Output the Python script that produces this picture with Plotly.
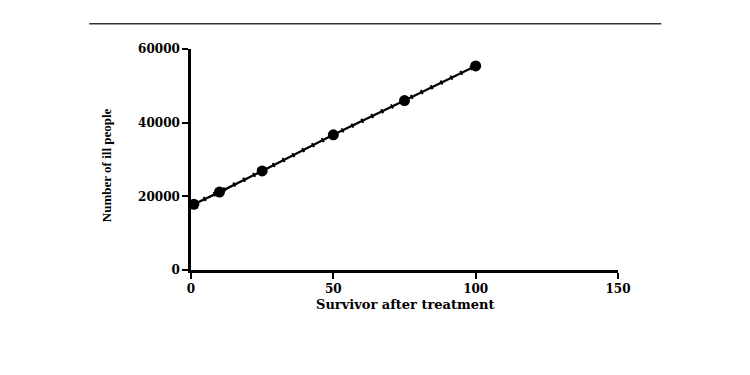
import plotly.graph_objects as go

survivors = [1, 10, 25, 50, 75, 100]
ill_people = [17850, 21150, 26900, 36700, 46000, 55400]
x_ticks = [0, 50, 100, 150]
y_ticks = [0, 20000, 40000, 60000]

W, H = 750, 375
OFF = 8  # page body margin offset
X0, X1 = 190.7, 617.7   # target pixel of x=0 and x=150
Y0, Y1 = 270.0, 49.3    # target pixel of y=0 and y=60000
L = X0 - OFF
R = W - (X1 - OFF)
T = Y1 - OFF
B = H - (Y0 - OFF)
pw = X1 - X0
ph = Y0 - Y1

def px(xp):
    return (xp - X0) / pw

def py(yp):
    return (Y0 - yp) / ph

fig = go.Figure()
fig.add_trace(go.Scatter(
    x=survivors, y=ill_people, mode="lines",
    line=dict(color="black", width=4.5, dash="2px,9px"),
    hoverinfo="skip", cliponaxis=False, showlegend=False))
fig.add_trace(go.Scatter(
    x=survivors, y=ill_people, mode="lines+markers",
    line=dict(color="black", width=2.3),
    marker=dict(color="black", size=11, symbol="circle"),
    cliponaxis=False, showlegend=False))

tickfont = dict(family="DejaVu Serif", size=12, color="black", weight="bold")
axis_common = dict(
    showgrid=False, zeroline=False, showline=True, linecolor="black",
    linewidth=2.5, ticks="outside", ticklen=6, tickwidth=2, tickcolor="black",
    tickfont=tickfont)

fig.update_xaxes(range=[0, 150], tickvals=x_ticks,
                 ticktext=[str(v) for v in x_ticks], **axis_common)
fig.update_yaxes(range=[0, 60000], tickvals=y_ticks,
                 ticktext=[str(v) for v in y_ticks], **axis_common)

fig.add_annotation(text="Survivor after treatment", xref="paper", yref="paper",
                   x=0.5, y=py(304), xanchor="center", yanchor="middle",
                   showarrow=False,
                   font=dict(family="DejaVu Serif", size=13, color="black", weight="bold"))
fig.add_annotation(text="Number of ill people", xref="paper", yref="paper",
                   x=px(107), y=py(165), xanchor="center", yanchor="middle",
                   showarrow=False, textangle=-90,
                   font=dict(family="Liberation Serif", size=13, color="black", weight="bold"))

fig.add_shape(type="line", xref="paper", yref="paper",
              x0=px(89), x1=px(661), y0=py(24), y1=py(24),
              line=dict(color="#333333", width=1.5))

fig.update_layout(
    width=W, height=H, autosize=False,
    margin=dict(l=L, r=R, t=T, b=B, pad=0),
    plot_bgcolor="white", paper_bgcolor="white",
    showlegend=False)

fig.write_html("out.html")
